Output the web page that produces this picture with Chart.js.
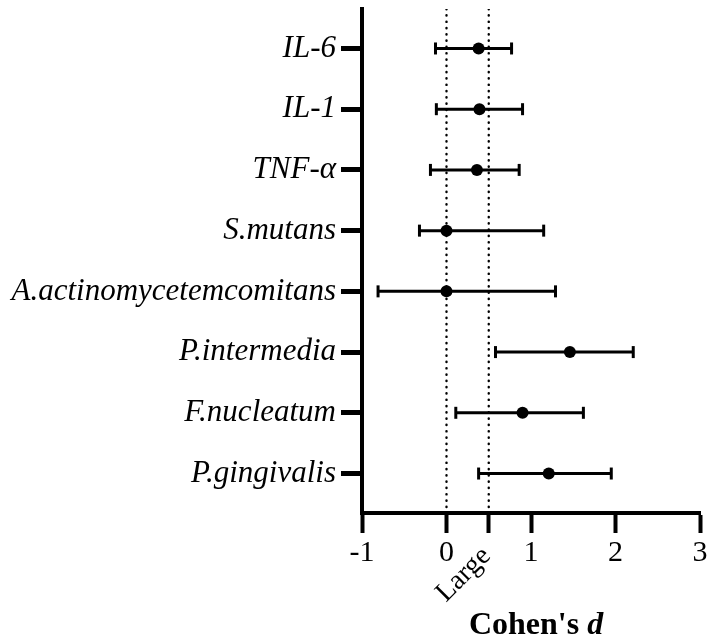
<!DOCTYPE html>
<html>
<head>
<meta charset="utf-8">
<script src="https://cdn.jsdelivr.net/npm/chart.js@4.4.0/dist/chart.umd.min.js"></script>
<style>
  html, body { margin: 0; padding: 0; background: #fff; }
  #wrap { width: 709px; height: 644px; }
</style>
</head>
<body>
<div id="wrap"><canvas id="forest"></canvas></div>
<script>
let labels = ['IL-6', 'IL-1', 'TNF-α', 'S.mutans', 'A.actinomycetemcomitans', 'P.intermedia', 'F.nucleatum', 'P.gingivalis'];
let effect = [0.38, 0.39, 0.36, 0.0, 0.0, 1.46, 0.90, 1.21];
let lower = [-0.13, -0.12, -0.19, -0.32, -0.81, 0.58, 0.11, 0.38];
let upper = [0.77, 0.90, 0.86, 1.15, 1.29, 2.21, 1.62, 1.95];
let xTicks = [-1, 0, 0.5, 1, 2, 3];
let refLines = [0, 0.5];
let refLabel = 'Large';

const serif = "'Liberation Serif', 'Times New Roman', serif";
const yMin = -0.65, yMax = labels.length - 1 + 0.65;

let datasets = [];

// dotted reference lines
refLines.forEach(v => {
  datasets.push({
    data: [{x: v, y: yMin}, {x: v, y: yMax}],
    showLine: true,
    borderColor: '#000',
    borderWidth: 2.4,
    borderDash: [0.3, 6],
    borderCapStyle: 'round',
    pointRadius: 0
  });
});

// confidence intervals with end caps
labels.forEach((name, i) => {
  datasets.push({
    data: [{x: lower[i], y: i}, {x: upper[i], y: i}],
    showLine: true,
    borderColor: '#000',
    borderWidth: 3,
    pointStyle: 'line',
    rotation: 90,
    pointRadius: 6,
    pointBorderWidth: 3,
    pointBorderColor: '#000'
  });
});

// point estimates
datasets.push({
  data: effect.map((v, i) => ({x: v, y: i})),
  pointRadius: 6,
  pointBackgroundColor: '#000',
  pointBorderColor: '#000',
  pointBorderWidth: 0
});

const noPad = s => { s.paddingTop = 0; s.paddingBottom = 0; s.paddingLeft = 0; s.paddingRight = 0; };

const extraText = {
  id: 'extraText',
  afterDraw(chart) {
    const ctx = chart.ctx;
    const xs = chart.scales.x;
    const area = chart.chartArea;
    ctx.save();
    ctx.fillStyle = '#000';
    // rotated "Large" tick label
    ctx.translate(xs.getPixelForValue(0.5) + 3, area.bottom + 44);
    ctx.rotate(-Math.PI / 4);
    ctx.font = '28px ' + serif;
    ctx.textAlign = 'right';
    ctx.textBaseline = 'alphabetic';
    ctx.fillText(refLabel, 0, 0);
    ctx.restore();

    // axis title: Cohen's d
    ctx.save();
    ctx.fillStyle = '#000';
    ctx.textBaseline = 'alphabetic';
    ctx.textAlign = 'left';
    const a = "Cohen's ", b = 'd';
    ctx.font = 'bold 32px ' + serif;
    const wa = ctx.measureText(a).width;
    ctx.font = 'italic bold 32px ' + serif;
    const wb = ctx.measureText(b).width;
    const cx = (area.left + area.right) / 2 + 5;
    const x0 = cx - (wa + wb) / 2;
    ctx.font = 'bold 32px ' + serif;
    ctx.fillText(a, x0, 634);
    ctx.font = 'italic bold 32px ' + serif;
    ctx.fillText(b, x0 + wa, 634);
    ctx.restore();
  }
};

new Chart(document.getElementById('forest').getContext('2d'), {
  type: 'scatter',
  data: { datasets: datasets },
  options: {
    responsive: true,
    maintainAspectRatio: false,
    animation: false,
    layout: { padding: { top: 5, right: 7, left: 0, bottom: 0 } },
    plugins: {
      legend: { display: false },
      tooltip: { enabled: false }
    },
    scales: {
      x: {
        type: 'linear',
        min: -1,
        max: 3,
        afterBuildTicks: s => { s.ticks = xTicks.map(v => ({value: v})); },
        afterFit: s => { s.height = 131; noPad(s); },
        ticks: {
          callback: v => (v === 0.5 ? '' : String(v)),
          font: { family: serif, size: 30 },
          color: '#000',
          maxRotation: 0,
          autoSkip: false,
          padding: 2
        },
        grid: {
          drawOnChartArea: false,
          drawTicks: true,
          tickLength: 20,
          tickWidth: 4,
          tickColor: '#000'
        },
        border: { display: true, color: '#000', width: 4 }
      },
      y: {
        type: 'linear',
        min: yMin,
        max: yMax,
        reverse: true,
        afterBuildTicks: s => { s.ticks = labels.map((_, i) => ({value: i})); },
        afterFit: s => { s.width = 362; noPad(s); },
        ticks: {
          callback: v => labels[v],
          font: { family: serif, size: 31, style: 'italic' },
          color: '#000',
          autoSkip: false,
          padding: 5
        },
        grid: {
          drawOnChartArea: false,
          drawTicks: true,
          tickLength: 21,
          tickWidth: 5,
          tickColor: '#000'
        },
        border: { display: true, color: '#000', width: 4 }
      }
    }
  },
  plugins: [extraText]
});
</script>
</body>
</html>
